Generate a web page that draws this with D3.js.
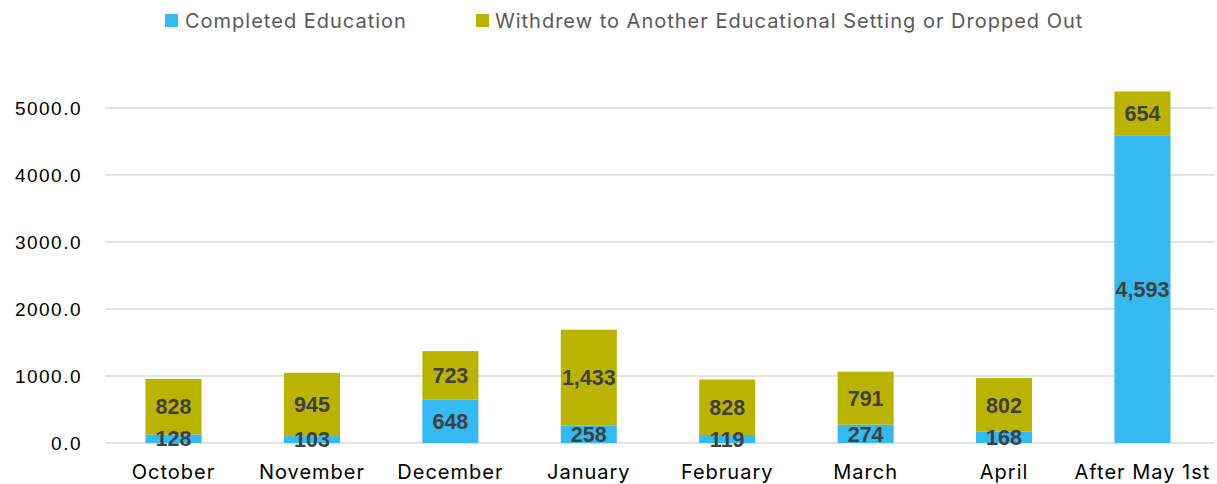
<!DOCTYPE html>
<html><head><meta charset="utf-8">
<script src="https://cdn.jsdelivr.net/npm/d3@7"></script>
<style>body{margin:0;background:#fff;}svg{display:block;}</style>
</head><body>
<script>
const categories = ["October","November","December","January","February","March","April","After May 1st"];
const completed = [128,103,648,258,119,274,168,4593];
const withdrew = [828,945,723,1433,828,791,802,654];
const seriesNames = ["Completed Education","Withdrew to Another Educational Setting or Dropped Out"];
const yTicks = [0,1000,2000,3000,4000,5000];
const colors = ["#35B9F2","#BAB400"];

const W=1217,H=484;
const font = "Inter, 'Noto Sans', sans-serif";
const numFont = "'Liberation Sans', Arial, sans-serif";
const svg=d3.select("body").append("svg").attr("width",W).attr("height",H);
const x=d3.scaleBand().domain(categories).range([104,1212]).paddingInner(0.595).paddingOuter(0.3);
const y=d3.scaleLinear().domain([0,5000]).range([443,108]);

// grid
svg.append("g").selectAll("line").data(yTicks).join("line")
  .attr("x1",105).attr("x2",1215).attr("y1",d=>y(d)).attr("y2",d=>y(d))
  .attr("stroke","#d9d9d9").attr("stroke-width",1.5);

// y axis labels
const yAxis=d3.axisLeft(y).tickValues(yTicks).tickFormat(d3.format(".1f")).tickSize(0).tickPadding(0);
const ga=svg.append("g").attr("transform","translate(82,0)").call(yAxis);
ga.select(".domain").remove();
ga.selectAll("text").attr("font-family",numFont).attr("font-size",19).attr("letter-spacing","1.5px").attr("fill","#000").attr("dy","0.35em");

const data=categories.map((c,i)=>({c,a:completed[i],b:withdrew[i]}));
const g=svg.append("g");
g.selectAll("rect.a").data(data).join("rect").attr("class","a")
  .attr("x",d=>x(d.c)).attr("width",x.bandwidth())
  .attr("y",d=>y(d.a)).attr("height",d=>y(0)-y(d.a)).attr("fill",colors[0]);
g.selectAll("rect.b").data(data).join("rect").attr("class","b")
  .attr("x",d=>x(d.c)).attr("width",x.bandwidth())
  .attr("y",d=>y(d.a+d.b)).attr("height",d=>y(d.a)-y(d.a+d.b)).attr("fill",colors[1]);

const fmt=d3.format(",");
g.selectAll("text.la").data(data).join("text")
  .attr("x",d=>x(d.c)+x.bandwidth()/2).attr("y",d=>y(d.a/2)).attr("dy","0.36em")
  .attr("text-anchor","middle").attr("font-family",numFont).attr("font-weight","bold").attr("font-size",21.5).attr("fill","#404040")
  .text(d=>fmt(d.a));
g.selectAll("text.lb").data(data).join("text")
  .attr("x",d=>x(d.c)+x.bandwidth()/2).attr("y",d=>y(d.a+d.b/2)).attr("dy","0.36em")
  .attr("text-anchor","middle").attr("font-family",numFont).attr("font-weight","bold").attr("font-size",21.5).attr("fill","#404040")
  .text(d=>fmt(d.b));

// x axis labels
const xAxis=d3.axisBottom(x).tickSize(0).tickPadding(0);
const gx=svg.append("g").attr("transform","translate(0,472)").call(xAxis);
gx.select(".domain").remove();
gx.selectAll("text").attr("font-family",font).attr("font-size",20).attr("letter-spacing","1px").attr("fill","#000").attr("dy","0.35em");

// legend
const leg=[{x:165,tx:185},{x:476,tx:495}];
seriesNames.forEach((n,i)=>{
  svg.append("rect").attr("x",leg[i].x).attr("y",14).attr("width",13).attr("height",13).attr("fill",colors[i]);
  svg.append("text").attr("x",leg[i].tx).attr("y",21).attr("dy","0.35em").attr("font-family",font).attr("font-size",20).attr("letter-spacing","1px").attr("fill","#595959").text(n);
});
</script>
</body></html>
